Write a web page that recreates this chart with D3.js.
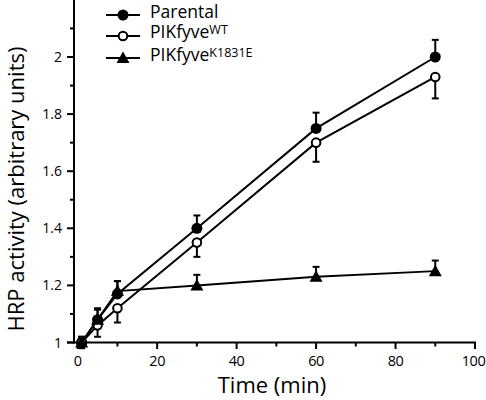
<!DOCTYPE html>
<html><head><meta charset="utf-8">
<script src="https://cdn.jsdelivr.net/npm/d3@7"></script>
<style>body{margin:0;background:#fff}svg{display:block}text{font-family:"Open Sans","Noto Sans",sans-serif;fill:#000}</style>
</head><body><svg id="c" width="486" height="400"></svg>
<script>
const times = [1, 5, 10, 30, 60, 90];
const parental = [1.0, 1.08, 1.17, 1.40, 1.75, 2.00];
const parentalErr = [0.02, 0.04, 0.045, 0.045, 0.055, 0.06];
const wt = [1.0, 1.06, 1.12, 1.35, 1.70, 1.93];
const wtErr = [0.02, 0.04, 0.05, 0.05, 0.067, 0.075];
const k1831e = [1.0, 1.08, 1.18, 1.20, 1.23, 1.25];
const k1831eErr = [0.02, 0.035, 0.035, 0.037, 0.035, 0.037];
const xTicks = [0, 20, 40, 60, 80, 100];
const yTicks = [1, 1.2, 1.4, 1.6, 1.8, 2];

const svg = d3.select("#c");
const x = d3.scaleLinear().domain([0, 100]).range([77.7, 475]);
const y = d3.scaleLinear().domain([1, 2.2]).range([342.5, -0.1]);
const axX = 74;

// axes
const gx = svg.append("g").attr("transform", `translate(0,${y(1)})`);
gx.append("line").attr("x1", 67).attr("x2", x(100) + 1).attr("stroke", "#000").attr("stroke-width", 2);
d3.range(0, 101, 10).forEach(v => {
  const major = v % 20 === 0;
  gx.append("line").attr("x1", x(v)).attr("x2", x(v)).attr("y1", 0).attr("y2", major ? 6.5 : 4)
    .attr("stroke", "#000").attr("stroke-width", 2);
});
xTicks.forEach(v => gx.append("text").attr("x", v === 100 ? x(v) - 1.5 : x(v)).attr("y", 23.5).attr("text-anchor", "middle")
  .attr("font-size", 14.5).attr("letter-spacing", -0.4).text(v));

const gy = svg.append("g");
gy.append("line").attr("x1", axX).attr("x2", axX).attr("y1", 0).attr("y2", y(1) + 1).attr("stroke", "#000").attr("stroke-width", 2);
d3.range(10, 22, 1).forEach(i => {
  const v = i / 10;
  const major = i % 2 === 0;
  gy.append("line").attr("x1", axX - (major ? 7 : 4)).attr("x2", axX).attr("y1", y(v)).attr("y2", y(v))
    .attr("stroke", "#000").attr("stroke-width", 2);
});
yTicks.forEach(v => gy.append("text").attr("x", 62).attr("y", y(v) + 5).attr("text-anchor", "end")
  .attr("font-size", 14).text(d3.format("")(v)));

svg.append("text").attr("x", 272).attr("y", 393).attr("text-anchor", "middle").attr("font-size", 22).text("Time (min)");
svg.append("text").attr("transform", `translate(24,${189}) rotate(-90)`).attr("text-anchor", "middle")
  .attr("font-size", 22).text("HRP activity (arbitrary units)");

const line = d3.line().x(d => x(d[0])).y(d => y(d[1]));
const series = [
  {vals: parental, err: parentalErr, dir: 1, marker: "filled"},
  {vals: wt, err: wtErr, dir: -1, marker: "open"},
  {vals: k1831e, err: k1831eErr, dir: 1, marker: "tri"}
];
function drawMarker(g, type, cx, cy) {
  if (type === "filled") g.append("circle").attr("cx", cx).attr("cy", cy).attr("r", 5.5).attr("fill", "#000");
  else if (type === "open") g.append("circle").attr("cx", cx).attr("cy", cy).attr("r", 4.3).attr("fill", "#fff").attr("stroke", "#000").attr("stroke-width", 2);
  else g.append("path").attr("d", `M${cx},${cy-6.5}L${cx+6.5},${cy+5}L${cx-6.5},${cy+5}Z`).attr("fill", "#000");
}
series.forEach(s => {
  const g = svg.append("g");
  const pts = times.map((t, i) => [t, s.vals[i]]);
  g.append("path").attr("d", line(pts)).attr("fill", "none").attr("stroke", "#000").attr("stroke-width", 2);
  times.forEach((t, i) => {
    const y0 = y(s.vals[i]), y1 = y(s.vals[i] + s.dir * s.err[i]);
    g.append("line").attr("x1", x(t)).attr("x2", x(t)).attr("y1", y0).attr("y2", y1).attr("stroke", "#000").attr("stroke-width", 2);
    g.append("line").attr("x1", x(t) - 3.5).attr("x2", x(t) + 3.5).attr("y1", y1).attr("y2", y1).attr("stroke", "#000").attr("stroke-width", 2);
  });
  times.forEach((t, i) => drawMarker(g, s.marker, x(t), y(s.vals[i])));
});

// legend
const legend = [
  {name: "Parental", sup: "", marker: "filled", ly: 15, by: 17.5},
  {name: "PIKfyve", sup: "WT", marker: "open", ly: 36, by: 37.5},
  {name: "PIKfyve", sup: "K1831E", marker: "tri", ly: 58, by: 60.5}
];
legend.forEach(l => {
  const g = svg.append("g");
  g.append("line").attr("x1", 106).attr("x2", 140).attr("y1", l.ly).attr("y2", l.ly).attr("stroke", "#000").attr("stroke-width", 2);
  drawMarker(g, l.marker, 123, l.ly);
  const t = g.append("text").attr("x", 150).attr("y", l.by).attr("font-size", 17.5);
  t.append("tspan").text(l.name);
  if (l.sup) t.append("tspan").attr("dy", -4).attr("font-size", 12.5).text(l.sup);
});
</script></body></html>
